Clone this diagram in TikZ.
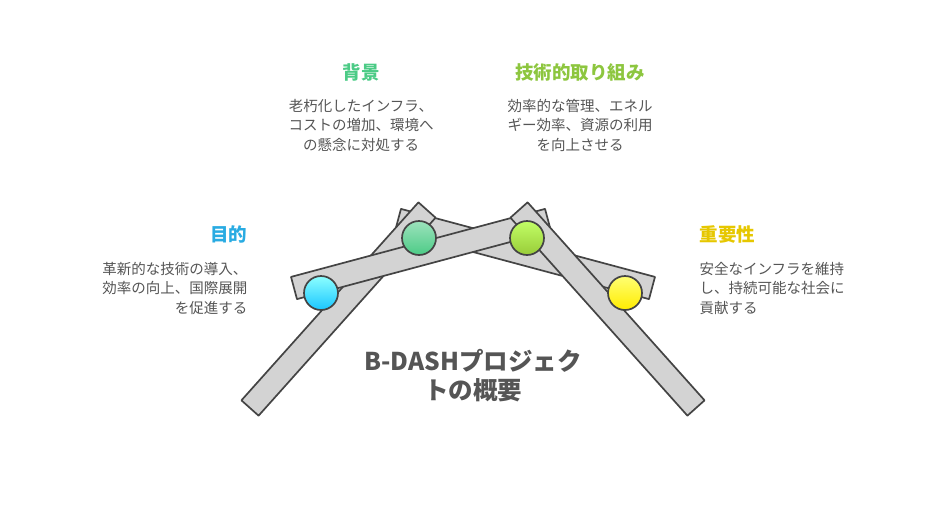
\documentclass[tikz,border=0pt]{standalone}
\usepackage{fontspec}
\setmainfont{Noto Sans CJK JP}
\usepackage{tikz}
\usetikzlibrary{calc}

\definecolor{barfill}{HTML}{D3D3D3}
\definecolor{barline}{HTML}{444444}
\definecolor{txtgray}{HTML}{555555}
\definecolor{cblue}{HTML}{29ABE2}
\definecolor{cgreen}{HTML}{4CCB86}
\definecolor{clime}{HTML}{8DC63F}
\definecolor{cyellow}{HTML}{E6C700}

\newcommand\drawbar[2]{%
  \draw[bar] ($(#1)!11.5pt!90:(#2)$) -- ($(#2)!11.5pt!-90:(#1)$)
    -- ($(#2)!11.5pt!90:(#1)$) -- ($(#1)!11.5pt!-90:(#2)$) -- cycle;}

\begin{document}
\begin{tikzpicture}
  [
    x=1pt, y=-1pt,
    bar/.style={
       fill=barfill,
       draw=barline,
       line width=1.7pt,
       line join=round
    },
    dot/.style={
       circle,
       minimum size=34pt,
       inner sep=0pt,
       draw=barline,
       line width=1.7pt
    },
    head/.style={
       font=\fontsize{18.5}{20}\selectfont\bfseries
    },
    body/.style={
       font=\fontsize{14.5}{19.5}\selectfont,
       text=txtgray
    }
  ]
  \useasboundingbox (0,0) rectangle (936,504);

  % bar ends
  \coordinate (b1s) at (427,210);
  \coordinate (b1e) at (250,408);
  \coordinate (b2s) at (519,210);
  \coordinate (b2e) at (696,408);
  \coordinate (b3s) at (548,220);
  \coordinate (b3e) at (294,288);
  \coordinate (b4s) at (398,220);
  \coordinate (b4e) at (652,288);

  \drawbar{b4s}{b4e}
  \drawbar{b1s}{b1e}
  \drawbar{b3s}{b3e}
  \drawbar{b2s}{b2e}

  \node (dblue)   at (321,293) [dot, top color=cyan!45,   bottom color=cyan!75!blue!90]  {};
  \node (dgreen)  at (419,238) [dot, top color=cgreen!55,  bottom color=cgreen]         {};
  \node (dlime)   at (527,238) [dot, top color=green!40!yellow!60, bottom color=clime!90!yellow] {};
  \node (dyellow) at (625,293) [dot, top color=yellow!55,  bottom color=yellow!85!orange] {};

  \node (hback)   at (361,72)  [head, text=cgreen] {背景};
  \node (tback)   at (361,125) [body, align=center]
        {老朽化したインフラ、\\コストの増加、環境へ\\の懸念に対処する};
  \node (htech)   at (580,72)  [head, text=clime] {技術的取り組み};
  \node (ttech)   at (580,125) [body, align=center]
        {効率的な管理、エネル\\ギー効率、資源の利用\\を向上させる};
  \node (hgoal)   at (251,234) [head, text=cblue, anchor=east] {目的};
  \node (tgoal)   at (251,288) [body, align=right, anchor=east]
        {革新的な技術の導入、\\効率の向上、国際展開\\を促進する};
  \node (himp)    at (696,234) [head, text=cyellow, anchor=west] {重要性};
  \node (timp)    at (696,288) [body, align=left, anchor=west]
        {安全なインフラを維持\\し、持続可能な社会に\\貢献する};

  \node (title) at (473,376) [align=center, text=txtgray,
        font=\fontsize{24.5}{29}\selectfont\bfseries]
        {B-DASHプロジェク\\トの概要};
\end{tikzpicture}
\end{document}
